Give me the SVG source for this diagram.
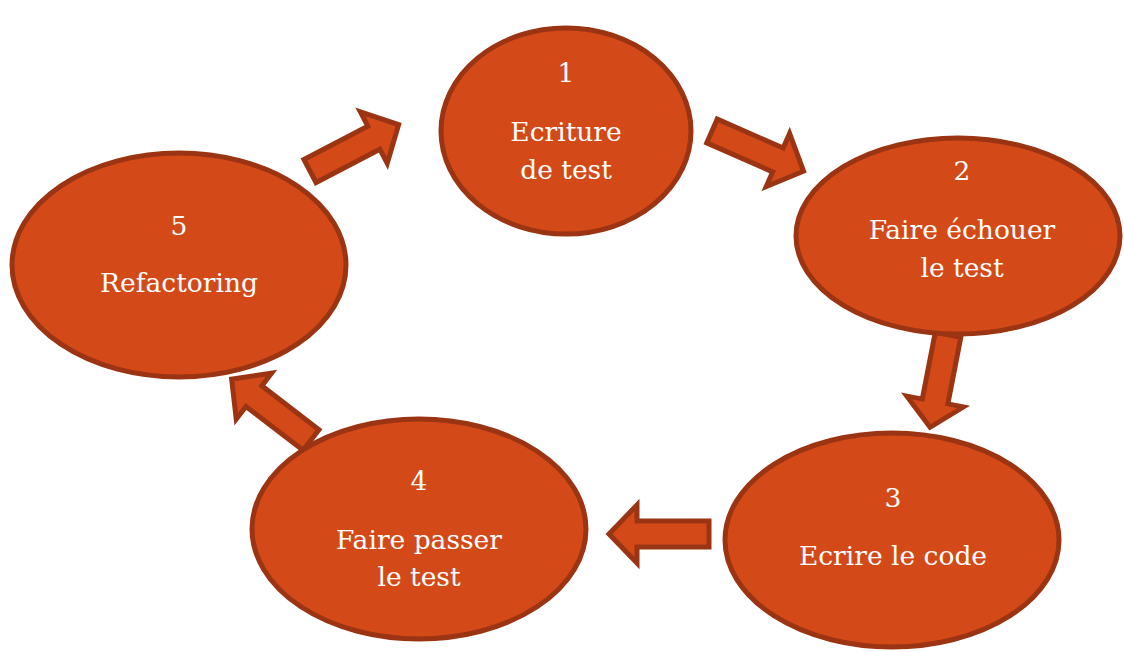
<svg xmlns="http://www.w3.org/2000/svg" width="1124" height="652" viewBox="0 0 1124 652">
<style>
.n{fill:#d34a18;stroke:#9b3413;stroke-width:5}
.a{fill:#d34a18;stroke:#9b3413;stroke-width:5;stroke-linejoin:miter}
text{font-family:"DejaVu Serif","Liberation Serif",serif;font-size:26.5px;fill:#ffffff;text-anchor:middle}
</style>
<defs>
<path id="arr" d="M0,-13 L72,-13 L72,-29 L100,0 L72,29 L72,13 L0,13 Z"/>
</defs>
<rect width="1124" height="652" fill="#ffffff"/>
<g id="connectors">
<use href="#arr" class="a" transform="translate(310,171) rotate(-27.6)"/>
<use href="#arr" class="a" transform="translate(712,131) rotate(23.7)"/>
<use href="#arr" class="a" transform="translate(948,335) rotate(101) scale(0.94,1)"/>
<use href="#arr" class="a" transform="translate(709,534) rotate(180)"/>
<use href="#arr" class="a" transform="translate(311,440) rotate(217.5)"/>
</g>
<g id="node1">
<ellipse class="n" cx="566" cy="131" rx="125" ry="103"/>
<text x="566" y="82">1</text>
<text x="566" y="141">Ecriture</text>
<text x="566" y="179">de test</text>
</g>
<g id="node2">
<ellipse class="n" cx="958" cy="236" rx="162" ry="98"/>
<text x="962" y="180">2</text>
<text x="962" y="239">Faire échouer</text>
<text x="962" y="277">le test</text>
</g>
<g id="node3">
<ellipse class="n" cx="892" cy="540" rx="167" ry="107"/>
<text x="893" y="507">3</text>
<text x="893" y="565">Ecrire le code</text>
</g>
<g id="node4">
<ellipse class="n" cx="419" cy="529" rx="167" ry="110"/>
<text x="419" y="490">4</text>
<text x="419" y="549">Faire passer</text>
<text x="419" y="586">le test</text>
</g>
<g id="node5">
<ellipse class="n" cx="179" cy="265" rx="167" ry="112"/>
<text x="179" y="235">5</text>
<text x="179" y="292">Refactoring</text>
</g>
</svg>
